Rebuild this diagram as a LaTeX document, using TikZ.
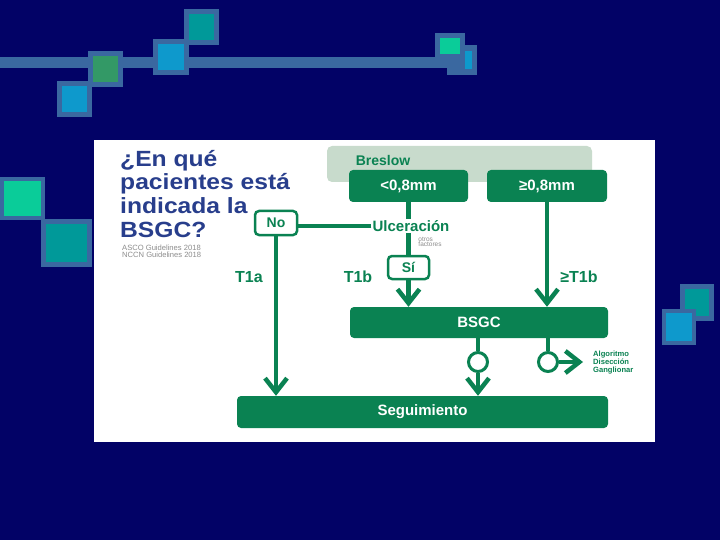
\documentclass[tikz,border=0pt]{standalone}
\usepackage{fontspec}
\setmainfont{Liberation Sans}
\newfontfamily\titlefont[FakeStretch=1.12]{Liberation Sans}
\usetikzlibrary{arrows.meta,calc}
\definecolor{navy}{RGB}{2,2,102}
\definecolor{sqborder}{RGB}{58,104,160}
\definecolor{sqblue}{RGB}{14,153,204}
\definecolor{sqgreen}{RGB}{51,153,102}
\definecolor{sqteal}{RGB}{0,153,153}
\definecolor{sqbright}{RGB}{10,204,153}
\definecolor{dgreen}{RGB}{10,130,82}
\definecolor{lgreen}{RGB}{200,219,204}
\definecolor{titleblue}{RGB}{40,62,140}
\definecolor{tgray}{RGB}{140,140,140}
\tikzset{
  x=1pt, y=-1pt,
  gbox/.style={fill=dgreen, rounded corners=4pt, text=white, font=\bfseries\fontsize{15}{15}\selectfont, inner sep=0pt},
  wbox/.style={draw=dgreen, line width=2.5pt, fill=white, rounded corners=4pt, text=dgreen, font=\bfseries\fontsize{14}{14}\selectfont, inner sep=0pt},
  gtext/.style={text=dgreen, font=\bfseries\fontsize{15}{15}\selectfont, inner sep=1pt},
  conn/.style={draw=dgreen, line width=4.5pt},
  arr/.style={conn, -{Straight Barb[length=14pt,width=22pt,line width=4.5pt]}},
  circ/.style={circle, draw=dgreen, line width=3pt, fill=white, minimum size=19pt, inner sep=0pt},
}
\newcommand{\deco}[6]{% x1 y1 x2 y2 border, inner color
  \fill[sqborder] (#1,#2) rectangle (#3,#4);
  \fill[#6] ($(#1,#2)+(#5,#5)$) rectangle ($(#3,#4)+(-#5,-#5)$);}
\begin{document}
\begin{tikzpicture}
\useasboundingbox (0,0) rectangle (720,540);
\fill[navy] (0,0) rectangle (720,540);
% top decoration
\fill[sqborder] (0,57) rectangle (448,68);
\deco{57}{81}{92}{117}{5}{sqblue}
\deco{88}{51}{123}{87}{5}{sqgreen}
\deco{153}{39}{189}{75}{5}{sqblue}
\deco{184}{9}{219}{45}{5}{sqteal}
\fill[sqborder] (447,45) rectangle (477,75);
\fill[sqblue] (465,51) rectangle (472,69);
\deco{435}{33}{465}{59}{5}{sqbright}
% left decoration
\deco{0}{177}{45}{220}{4}{sqbright}
\deco{41}{219}{92}{267}{5}{sqteal}
% right decoration
\deco{680}{284}{714}{321}{5}{sqteal}
\deco{662}{309}{696}{345}{4}{sqblue}
% white panel
\fill[white] (94,140) rectangle (655,442);
% title
\begin{scope}[every node/.style={anchor=base west, inner sep=0pt, text=titleblue, font=\titlefont\bfseries\fontsize{22}{22}\selectfont}]
\node (t1) at (120,167) {¿En qué};
\node (t2) at (120,190) {pacientes está};
\node (t3) at (120,214) {indicada la};
\node (t4) at (120,237) {BSGC?};
\end{scope}
\begin{scope}[every node/.style={anchor=base west, inner sep=0pt, text=tgray, font=\fontsize{7.6}{7.6}\selectfont}]
\node (g1) at (122,250) {ASCO Guidelines 2018};
\node (g2) at (122,258) {NCCN Guidelines 2018};
\end{scope}
% flowchart
\node[fill=lgreen, rounded corners=5pt, minimum width=265pt, minimum height=36pt] (breslowbox) at (459.5,164) {};
\node[gtext, font=\bfseries\fontsize{14}{14}\selectfont] (breslow) at (383,160) {Breslow};
\node[gbox, minimum width=119pt, minimum height=32pt] (lt) at (408.5,186) {<0,8mm};
\node[gbox, minimum width=120pt, minimum height=32pt] (ge) at (547,186) {≥0,8mm};
\node[gtext] (ulc) at (411,226) {Ulceración};
\node[text=tgray, font=\fontsize{6.5}{6.5}\selectfont, align=left, inner sep=0pt] (otros) at (430,242) {otros\\[-1.5pt]factores};
\node[wbox, minimum width=42pt, minimum height=24pt] (no) at (276,223) {No};
\node[wbox, minimum width=41pt, minimum height=23pt] (si) at (408.5,267.5) {Sí};
\node[gtext, font=\bfseries\fontsize{16}{16}\selectfont] (t1a) at (249,277) {T1a};
\node[gtext, font=\bfseries\fontsize{16}{16}\selectfont] (t1b) at (358,277) {T1b};
\node[gtext, font=\bfseries\fontsize{16}{16}\selectfont] (get1b) at (579,277) {≥T1b};
\node[gbox, minimum width=258pt, minimum height=31pt] (bsgc) at (479,322.5) {BSGC};
\node[gbox, minimum width=371pt, minimum height=32pt] (seg) at (422.5,412) {Seguimiento};
\node[circ] (c1) at (478,362) {};
\node[circ] (c2) at (548,362) {};
\coordinate (alg) at (583,362);
\node[text=dgreen, font=\bfseries\fontsize{7.6}{8}\selectfont, align=left, anchor=west, inner sep=0pt] (algt) at (593,363) {Algoritmo\\Disección\\Ganglionar};
% connectors
\draw[conn] (lt.south) -- (lt.south |- ulc.north);
\draw[conn] (lt.south |- ulc.south) -- (si.north);
\draw[conn] (ulc.west) -- (ulc.west -| no.east);
\draw[arr] (no.south) -- (no.south |- seg.north);
\draw[arr] (si.south) -- (si.south |- bsgc.north);
\draw[arr] (ge.south) -- (ge.south |- bsgc.north);
\draw[conn] (c1.north |- bsgc.south) -- (c1.north);
\draw[conn] (c2.north |- bsgc.south) -- (c2.north);
\draw[arr] (c1.south) -- (c1.south |- seg.north);
\draw[arr] (c2.east) -- (alg);
\end{tikzpicture}
\end{document}
